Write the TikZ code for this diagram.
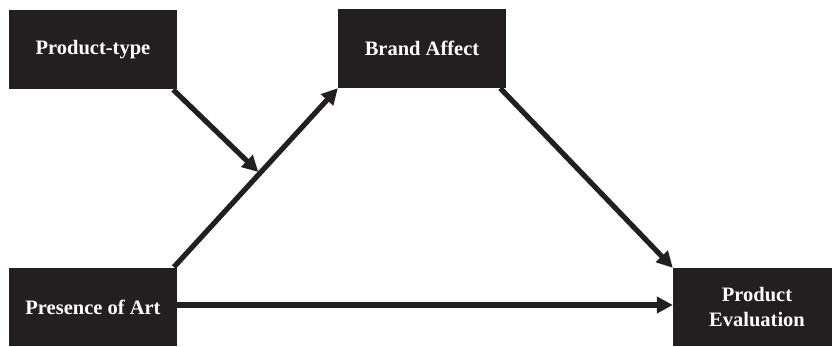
\documentclass[tikz,border=0pt]{standalone}
\usepackage{fontspec}
\setmainfont{Liberation Serif}
\usetikzlibrary{arrows.meta,calc}
\definecolor{ink}{HTML}{231F20}
\begin{document}
\begin{tikzpicture}[x=1pt,y=1pt,
  box/.style={fill=ink, draw=none, text=white, minimum width=168pt, minimum height=79pt,
    inner sep=0pt, align=center, font=\fontsize{20.5}{25}\selectfont\bfseries},
  link/.style={draw=ink, line width=5.2pt,
    -{Triangle[length=16pt,width=16pt]}}]
  \useasboundingbox (0,0) rectangle (832,346);
  \clip (0,0) rectangle (832,346);

  % constructs
  \node[box] (pt) at (93,296) {Product-type};
  \node[box] (ba) at (422,297.5) {Brand Affect};
  \node[box, minimum height=78pt] (pa) at (93,39) {Presence of Art};
  \node[box, minimum height=78pt] (pe) at (757,39) {Product\\Evaluation};

  % paths
  \draw[link, shorten <=1pt] ([xshift=-4pt]pa.north east) -- (ba.south west);
  \coordinate (mod) at ($([xshift=-4pt]pa.north east)!0.526!(ba.south west)$);
  \draw[link, shorten >=2pt] ([xshift=-4pt]pt.south east) -- (mod);
  \draw[link] ([xshift=-6pt]ba.south east) -- (pe.north west);
  \draw[link] ([yshift=2pt]pa.east) -- ([yshift=2pt]pe.west);
\end{tikzpicture}
\end{document}
